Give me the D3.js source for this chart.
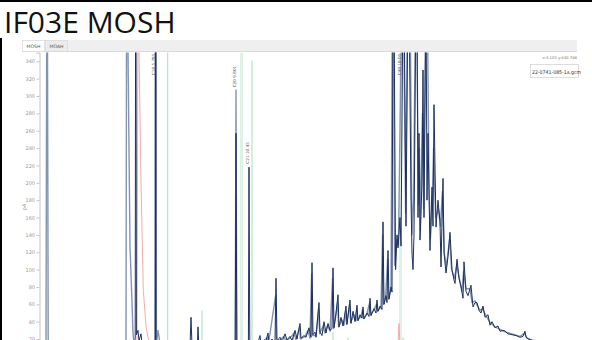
<!DOCTYPE html>
<html>
<head>
<meta charset="utf-8">
<script src="https://cdn.jsdelivr.net/npm/d3@7"></script>
<style>
  html, body { margin: 0; padding: 0; background: #fff; }
  svg { display: block; }
</style>
</head>
<body>
<svg id="chart" width="592" height="340"></svg>
<script>
// ---- data -----------------------------------------------------------
const chartTitle = "IF03E MOSH";
const tabNames = ["MOSH", "MOAH"];
const yTicks = [20, 40, 60, 80, 100, 120, 140, 160, 180, 200, 220, 240, 260, 280, 300, 320, 340];
const yUnit = "pA";
const cursorText = "x:4.101 y:340.788";
const fileName = "22-0741-085-1a.gcm";

// sample trace [retention time (min), signal (pA)]; 420 = off scale
const sampleTrace = [
  [0.0, 12], [4.0, 12], [4.6, 14], [4.76, 20], [4.78, 420], [4.80, 420], [4.82, 25],
  [4.9, 30], [4.95, 18], [5.05, 26], [5.1, 15], [5.3, 13], [5.77, 14], [5.785, 420], [5.8, 14],
  [7.5, 12], [7.55, 45], [7.6, 12], [7.87, 12], [7.9, 34], [7.94, 12], [9.76, 12], [9.8, 257], [9.84, 12],
  [10.42, 12], [10.45, 218], [10.49, 12],
  [10.6, 13], [10.9, 16], [11.0, 24], [11.05, 14], [11.3, 18], [11.4, 27], [11.45, 16],
  [11.6, 20], [11.75, 16], [11.8, 90], [11.85, 18], [12.0, 22], [12.1, 17], [12.25, 26],
  [12.35, 19], [12.5, 23], [12.6, 18], [12.75, 30], [12.85, 20], [13.0, 38], [13.05, 21],
  [13.2, 24], [13.3, 22], [13.45, 33], [13.55, 22], [13.6, 108], [13.65, 25], [13.75, 28],
  [13.8, 22], [13.95, 62], [14.0, 28], [14.1, 24], [14.2, 40], [14.3, 27], [14.4, 38],
  [14.5, 30], [14.6, 32], [14.65, 102], [14.7, 33], [14.8, 50], [14.9, 71], [14.95, 34],
  [15.05, 45], [15.15, 35], [15.3, 58], [15.35, 37], [15.5, 65], [15.55, 38], [15.65, 52],
  [15.75, 40], [15.85, 59], [15.9, 41], [16.0, 48], [16.1, 44], [16.15, 57], [16.2, 43],
  [16.35, 50], [16.45, 46], [16.5, 67], [16.55, 47], [16.7, 55], [16.8, 50], [16.85, 65],
  [16.9, 52], [17.0, 58], [17.1, 54], [17.15, 155], [17.2, 60], [17.3, 70], [17.35, 62],
  [17.4, 122], [17.45, 66], [17.55, 80], [17.6, 74], [17.65, 420], [17.7, 420], [17.78, 100],
  [17.85, 140], [17.9, 125], [18.0, 160], [18.05, 127], [18.15, 420], [18.2, 420], [18.3, 150],
  [18.4, 420], [18.45, 420], [18.55, 180], [18.6, 119], [18.65, 100], [18.7, 140], [18.8, 420],
  [18.85, 420], [18.9, 160], [18.95, 257], [19.0, 134], [19.1, 200], [19.15, 330], [19.2, 160],
  [19.25, 295], [19.3, 420], [19.35, 180], [19.4, 257], [19.5, 122], [19.6, 195], [19.65, 150],
  [19.7, 290], [19.8, 149], [19.9, 180], [20.0, 155], [20.05, 103], [20.15, 205], [20.2, 120],
  [20.3, 96], [20.4, 115], [20.5, 143], [20.6, 100], [20.7, 88], [20.75, 84], [20.85, 112],
  [20.95, 90], [21.05, 80], [21.15, 67], [21.2, 109], [21.3, 75], [21.4, 70], [21.55, 82],
  [21.65, 57], [21.75, 62], [21.85, 62], [21.95, 53], [22.05, 50], [22.15, 58], [22.25, 45],
  [22.4, 48], [22.5, 36], [22.6, 40], [22.75, 33], [22.9, 35], [23.0, 29], [23.2, 30],
  [23.4, 26], [23.6, 25], [23.8, 24], [24.0, 22], [24.15, 23], [24.25, 29], [24.3, 22],
  [24.5, 19], [24.8, 17], [25.2, 16], [26.0, 15]
];

// overlaid second injection
const overlayTrace = [
  [0.0, 12], [0.3, 12], [0.34, 420], [0.37, 420], [0.41, 12], [4.3, 12], [4.33, 420],
  [4.37, 420], [4.5, 126], [4.58, 76], [4.65, 27], [4.7, 15], [5.74, 14], [5.76, 420],
  [5.8, 420], [5.82, 14], [5.9, 30], [6.0, 15], [9.76, 12], [9.8, 307], [9.84, 12],
  [10.6, 13], [11.0, 15], [11.38, 22], [11.42, 14], [11.78, 70], [11.82, 16], [12.0, 19],
  [12.2, 23], [12.3, 18], [12.5, 21], [12.7, 27], [12.8, 19], [12.98, 34], [13.02, 20],
  [13.25, 23], [13.4, 30], [13.5, 21], [13.58, 95], [13.62, 24], [13.8, 24], [13.93, 55],
  [13.98, 26], [14.15, 35], [14.25, 27], [14.38, 36], [14.5, 29], [14.63, 90], [14.68, 32],
  [14.78, 45], [14.88, 62], [14.93, 34], [15.1, 42], [15.2, 36], [15.28, 52], [15.33, 37],
  [15.48, 60], [15.53, 39], [15.7, 48], [15.8, 41], [15.83, 55], [15.88, 42], [16.05, 46],
  [16.13, 54], [16.18, 44], [16.33, 48], [16.48, 62], [16.53, 48], [16.68, 53], [16.83, 60],
  [16.88, 52], [17.05, 57], [17.13, 140], [17.18, 60], [17.28, 68], [17.38, 112], [17.43, 66],
  [17.55, 78], [17.62, 420], [17.67, 420], [17.73, 105], [17.85, 135], [17.92, 128], [18.1, 420],
  [18.17, 420], [18.28, 165], [18.38, 420], [18.5, 420], [18.6, 140], [18.68, 180], [18.78, 420],
  [18.83, 420], [18.92, 175], [18.97, 240], [19.02, 145], [19.12, 280], [19.18, 170], [19.3, 420],
  [19.36, 420], [19.45, 200], [19.52, 135], [19.62, 185], [19.68, 240], [19.78, 160], [19.92, 170],
  [20.02, 150], [20.12, 190], [20.22, 118], [20.32, 104], [20.48, 135], [20.58, 100], [20.72, 90],
  [20.83, 105], [20.95, 92], [21.1, 75], [21.18, 98], [21.3, 78], [21.5, 78], [21.6, 62],
  [21.75, 64], [21.83, 60], [22.0, 53], [22.12, 55], [22.3, 47], [22.5, 39], [22.7, 35],
  [23.0, 31], [23.3, 28], [23.6, 26], [24.0, 23], [24.23, 27], [24.35, 21], [24.6, 19], [25.5, 15]
];

// blank run
const blankTrace = [
  [4.85, 12], [4.9, 420], [4.95, 350], [5.05, 200], [5.165, 76], [5.3, 35], [5.4, 22],
  [5.55, 14], [12.65, 12], [12.67, 25], [12.7, 12], [17.9, 12], [17.95, 38], [18.0, 12]
];

// integration window markers: time and top (pA)
const markerTimes = [6.385, 8.1, 10.6, 14.65, 15.4, 18.15];
const markerTops = [420, 53, 341, 28, 22, 22];
// standard windows [start, end] (min)
const standardBands = [[10.0, 10.15], [17.95, 18.1]];

// named peaks: time, label, height of label base (pA)
const peakTimes = [5.785, 9.8, 10.45, 18.05];
const peakNames = ["C10 5.785", "C20 9.801", "C21 10.45", "C40 18.05"];
const peakLabelBase = [324, 310, 222, 324];

// ---- drawing --------------------------------------------------------
const svg = d3.select("#chart");
const W = 592, H = 340;

svg.append("rect").attr("width", W).attr("height", H).attr("fill", "#fff");

// frame
svg.append("rect").attr("x", 0).attr("y", 0).attr("width", W).attr("height", 2).attr("fill", "#000");
svg.append("rect").attr("x", 0).attr("y", 38).attr("width", 2).attr("height", H - 38).attr("fill", "#000");

svg.append("text")
  .attr("x", 4).attr("y", 33)
  .attr("font-family", "'Open Sans', sans-serif")
  .attr("font-size", 30)
  .attr("fill", "#111")
  .text(chartTitle);

// tab strip
const tabs = svg.append("g");
tabs.append("rect").attr("x", 22).attr("y", 40).attr("width", 555).attr("height", 11).attr("fill", "#efefef");
tabs.append("line").attr("x1", 22).attr("x2", 577).attr("y1", 51.5).attr("y2", 51.5).attr("stroke", "#dadada");
tabNames.forEach((name, i) => {
  const tx = 22 + i * 23;
  tabs.append("rect")
    .attr("x", tx + 0.5).attr("y", 40.5).attr("width", 22).attr("height", 11)
    .attr("fill", i === 0 ? "#fff" : "#ececec")
    .attr("stroke", "#d4d4d4").attr("stroke-width", 0.6);
  tabs.append("text")
    .attr("x", tx + 11.5).attr("y", 48)
    .attr("text-anchor", "middle")
    .attr("font-family", "'DejaVu Sans', sans-serif")
    .attr("font-size", 4.6).attr("fill", "#555")
    .text(name);
});

const x = d3.scaleLinear().domain([0, 27]).range([40, 580]);
const y = d3.scaleLinear().domain([0, 350]).range([356.4, 52.6]);

// y axis
const yAxis = svg.append("g")
  .attr("transform", "translate(39.5,0)")
  .call(d3.axisLeft(y).tickValues(yTicks).tickSize(3).tickPadding(1.5));
yAxis.select(".domain").attr("stroke", "#c4c4c4");
yAxis.selectAll(".tick line").attr("stroke", "#c4c4c4");
yAxis.selectAll(".tick text")
  .attr("fill", "#9a9a9a")
  .attr("font-family", "'DejaVu Sans', sans-serif")
  .attr("font-size", 5);

svg.append("text")
  .attr("transform", "translate(26,207) rotate(-90)")
  .attr("text-anchor", "middle")
  .attr("font-family", "'DejaVu Sans', sans-serif")
  .attr("font-size", 5).attr("fill", "#999")
  .text(yUnit);

// plot area
svg.append("clipPath").attr("id", "plotClip")
  .append("rect").attr("x", 40).attr("y", 52.5).attr("width", 538).attr("height", H - 52.5);
const plot = svg.append("g").attr("clip-path", "url(#plotClip)");

standardBands.forEach(([a, b]) => {
  plot.append("rect")
    .attr("x", x(a)).attr("y", y(350)).attr("width", x(b) - x(a)).attr("height", y(0) - y(350))
    .attr("fill", "#dff2e5");
});
markerTimes.forEach((t, i) => {
  plot.append("line")
    .attr("x1", x(t)).attr("x2", x(t))
    .attr("y1", y(0)).attr("y2", y(markerTops[i]))
    .attr("stroke", "#a9ddb9").attr("stroke-width", 1);
});

const line = d3.line().x(d => x(d[0])).y(d => y(d[1]));

plot.append("path").datum(overlayTrace)
  .attr("d", line).attr("fill", "none")
  .attr("stroke", "#8493b0").attr("stroke-width", 1.4).attr("stroke-linejoin", "round");
plot.append("path").datum(blankTrace)
  .attr("d", line).attr("fill", "none")
  .attr("stroke", "#f2a2a2").attr("stroke-width", 0.9);
plot.append("path").datum(sampleTrace)
  .attr("d", line).attr("fill", "none")
  .attr("stroke", "#1d315e").attr("stroke-width", 1).attr("stroke-linejoin", "round");

// peak names, written upwards
peakTimes.forEach((t, i) => {
  svg.append("text")
    .attr("transform", `translate(${x(t) - 0.5},${y(peakLabelBase[i])}) rotate(-90)`)
    .attr("font-family", "'DejaVu Sans', sans-serif")
    .attr("font-size", 4.2).attr("fill", "#555")
    .text(peakNames[i]);
});

// cursor readout and file box
svg.append("text")
  .attr("x", 577).attr("y", 59).attr("text-anchor", "end")
  .attr("font-family", "'DejaVu Sans', sans-serif")
  .attr("font-size", 3.8).attr("fill", "#777")
  .text(cursorText);
svg.append("rect")
  .attr("x", 530.5).attr("y", 64.5).attr("width", 48).attr("height", 13)
  .attr("fill", "#fff").attr("stroke", "#cfcfcf").attr("stroke-width", 0.7);
svg.append("text")
  .attr("x", 532).attr("y", 73.5)
  .attr("font-family", "'Liberation Sans Narrow', 'DejaVu Sans Condensed', sans-serif")
  .attr("font-size", 5.2).attr("fill", "#333")
  .text(fileName);
</script>
</body>
</html>
